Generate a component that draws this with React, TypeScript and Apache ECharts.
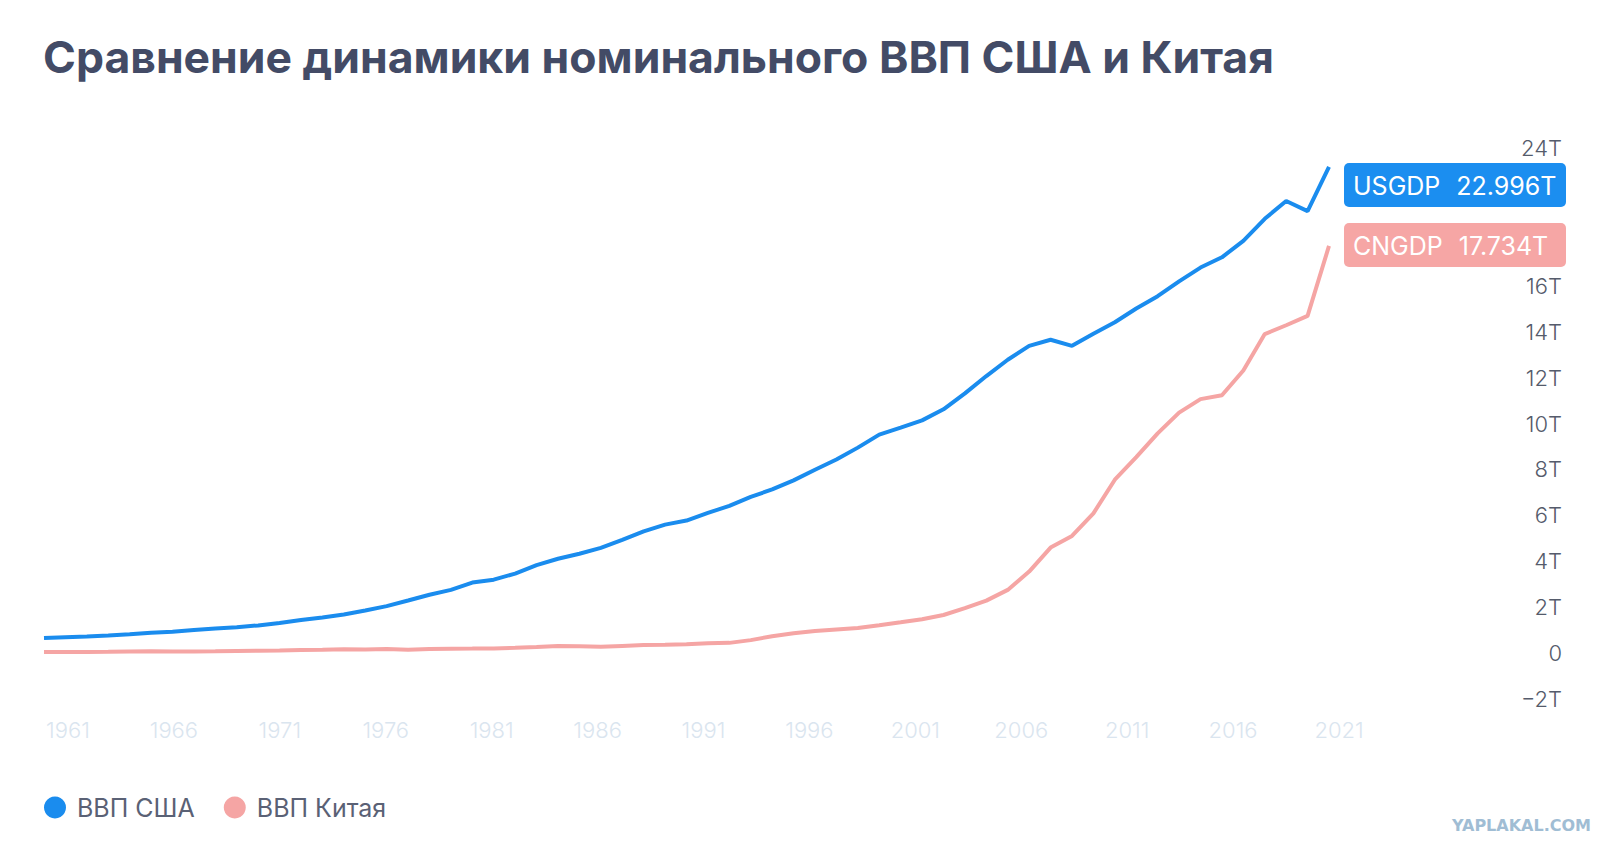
import React, { useEffect, useRef } from "react";
import * as echarts from "echarts";

const years: string[] = [];
for (let y = 1961; y <= 2021; y++) years.push(String(y));

// Nominal GDP, trillions USD
const usGdp = [
  0.563, 0.605, 0.639, 0.686, 0.744, 0.815, 0.862, 0.943, 1.02, 1.073,
  1.165, 1.279, 1.425, 1.545, 1.684, 1.873, 2.082, 2.352, 2.627, 2.857,
  3.207, 3.343, 3.634, 4.037, 4.339, 4.579, 4.855, 5.236, 5.642, 5.963,
  6.158, 6.52, 6.859, 7.287, 7.64, 8.073, 8.577, 9.063, 9.631, 10.252,
  10.582, 10.929, 11.457, 12.217, 13.039, 13.816, 14.475, 14.769, 14.478, 15.049,
  15.6, 16.254, 16.843, 17.551, 18.206, 18.695, 19.48, 20.527, 21.373, 20.893,
  22.996,
];
const cnGdp = [
  0.05, 0.047, 0.051, 0.06, 0.07, 0.076, 0.072, 0.07, 0.079, 0.093,
  0.1, 0.114, 0.139, 0.144, 0.163, 0.154, 0.175, 0.15, 0.178, 0.191,
  0.196, 0.205, 0.23, 0.26, 0.309, 0.301, 0.273, 0.312, 0.348, 0.361,
  0.383, 0.427, 0.445, 0.564, 0.735, 0.864, 0.962, 1.029, 1.094, 1.211,
  1.339, 1.471, 1.66, 1.955, 2.286, 2.752, 3.55, 4.594, 5.102, 6.087,
  7.552, 8.532, 9.57, 10.476, 11.062, 11.233, 12.31, 13.895, 14.28, 14.688,
  17.734,
];

const seriesNames = ["ВВП США", "ВВП Китая"];
const badgeLabels = ["USGDP", "CNGDP"];
const badgeValues = ["22.996T", "17.734T"];
const titleText = "Сравнение динамики номинального ВВП США и Китая";
const watermark = "YAPLAKAL.COM";

const BLUE = "#1a8cee";
const PINK = "#f5a5a4";

export default function App() {
  const ref = useRef<HTMLDivElement>(null);
  useEffect(() => {
    if (!ref.current) return;
    const chart = echarts.init(ref.current, undefined, { renderer: "svg" });
    const font = "Inter, 'Noto Sans', sans-serif";
    const badge = (top: number, color: string, label: string, value: string) => ({
      type: "group",
      left: 1344,
      top,
      children: [
        {
          type: "rect",
          shape: { x: 0, y: 0, width: 222, height: 44, r: 5 },
          style: { fill: color },
        },
        {
          type: "text",
          x: 9,
          y: 23,
          style: {
            text: `{a|${label}}{b|${value}}`,
            verticalAlign: "middle",
            fill: "#fff",
            font: `400 25px ${font}`,
            rich: {
              a: { fontSize: 25, fontFamily: font, color: "#fff" },
              b: { fontSize: 25, fontFamily: font, color: "#fff", padding: [0, 0, 0, 16] },
            },
          },
        },
      ],
    });
    const hiddenAxis = {
      axisLine: { show: false },
      axisTick: { show: false },
      splitLine: { show: false },
    };
    chart.setOption({
      animation: false,
      backgroundColor: "#ffffff",
      title: {
        text: titleText,
        left: 43,
        top: 34,
        padding: 0,
        textStyle: { fontFamily: font, fontWeight: 700, fontSize: 44.5, color: "#434b66" },
      },
      grid: [
        { left: 44, right: 288, top: 148, bottom: 156 },
        { left: 68, right: 278, top: 148, bottom: 156 },
      ],
      legend: {
        left: 44,
        top: 795,
        padding: 0,
        icon: "circle",
        itemWidth: 22,
        itemHeight: 22,
        itemGap: 29,
        data: seriesNames,
        textStyle: { fontFamily: font, fontSize: 25, color: "#5a6175", padding: [0, 0, 0, 6] },
      },
      xAxis: [
        {
          type: "category",
          gridIndex: 0,
          data: years,
          boundaryGap: false,
          ...hiddenAxis,
          axisLabel: { show: false },
        },
        {
          type: "category",
          gridIndex: 1,
          data: years,
          boundaryGap: false,
          ...hiddenAxis,
          axisLabel: {
            interval: 4,
            margin: 20,
            fontFamily: font,
            fontSize: 22,
            fontWeight: 300,
            color: "#dae5ef",
          },
        },
      ],
      yAxis: [
        {
          type: "value",
          gridIndex: 0,
          position: "right",
          min: -2,
          max: 22,
          interval: 2,
          ...hiddenAxis,
          axisLabel: {
            align: "right",
            margin: 233,
            fontFamily: font,
            fontSize: 22,
            fontWeight: 300,
            color: "#555b6b",
            formatter: (v: number) => {
              if (v === 22) return "24T";
              if (v === 18 || v === 20) return "";
              if (v === 0) return "0";
              return (v < 0 ? "\u2212" + Math.abs(v) : String(v)) + "T";
            },
          },
        },
        {
          type: "value",
          gridIndex: 0,
          show: false,
          min: -2.34,
          max: 23.9,
          splitLine: { show: false },
        },
        {
          type: "value",
          gridIndex: 1,
          show: false,
          min: 0,
          max: 1,
          splitLine: { show: false },
        },
      ],
      series: [
        {
          name: seriesNames[0],
          type: "line",
          xAxisIndex: 0,
          yAxisIndex: 1,
          data: usGdp,
          showSymbol: false,
          color: BLUE,
          lineStyle: { width: 4, color: BLUE },
          z: 3,
        },
        {
          name: seriesNames[1],
          type: "line",
          xAxisIndex: 0,
          yAxisIndex: 0,
          data: cnGdp,
          showSymbol: false,
          color: PINK,
          lineStyle: { width: 4, color: PINK },
          z: 2,
        },
      ],
      graphic: [
        badge(163, "#1b8ef0", badgeLabels[0], badgeValues[0]),
        badge(223, "#f6a6a5", badgeLabels[1], badgeValues[1]),
        {
          type: "text",
          right: 26,
          top: 817,
          style: {
            text: watermark,
            fill: "#a0bdd4",
            font: "bold 16px 'DejaVu Sans', sans-serif",
          },
        },
      ],
    });
    return () => chart.dispose();
  }, []);
  return (
    <div
      ref={ref}
      style={{ position: "fixed", left: 0, top: 0, width: 1617, height: 855, background: "#fff" }}
    />
  );
}
